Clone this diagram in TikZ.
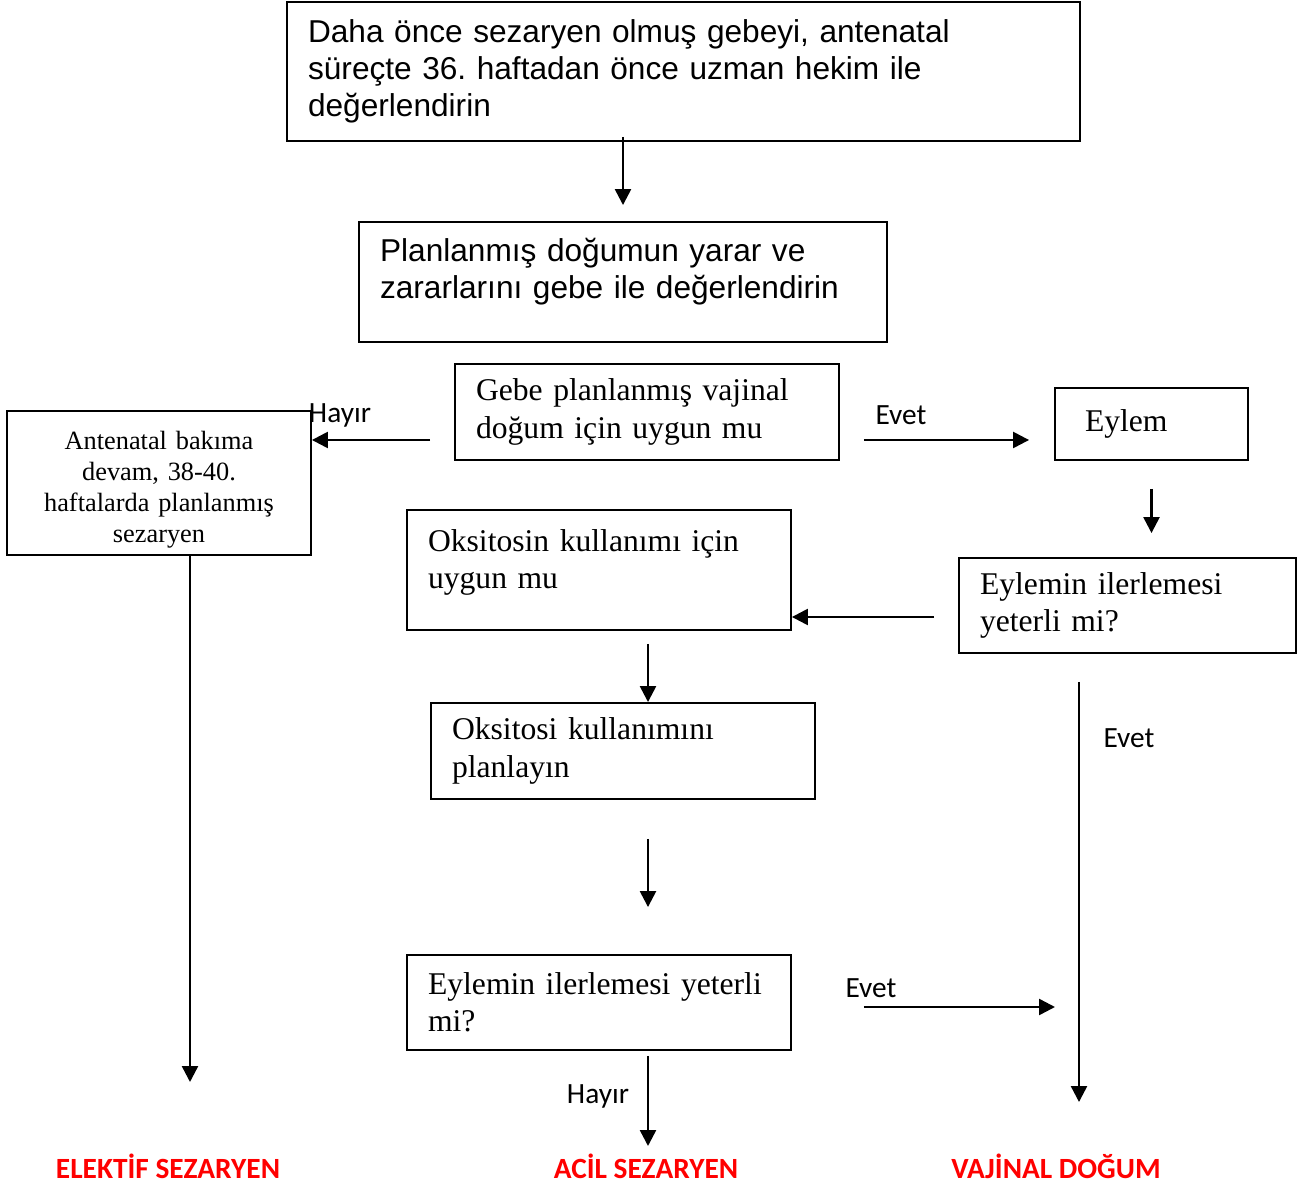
\documentclass[tikz,border=0pt]{standalone}
\usepackage{fontspec}
\setmainfont{Liberation Serif}
\newfontfamily\arialfont{Liberation Sans}
\newfontfamily\calfont{Carlito}
\frenchspacing
\usetikzlibrary{
  positioning,
  arrows.meta}

\tikzset{
  box/.style={draw, line width=1.1pt, inner xsep=0.42cm, inner ysep=0pt, align=left},
  sansbox/.style={box, font=\arialfont\fontsize{18}{21}\selectfont},
  serifbox/.style={box, font=\fontsize{18}{21.2}\selectfont},
  arr/.style={-{Triangle[length=0.32cm,width=0.32cm]}, line width=1.4pt},
  lbl/.style={font=\calfont\fontsize{16.7}{18}\selectfont, inner sep=0pt},
  sonuc/.style={font=\calfont\bfseries\fontsize{16.7}{18}\selectfont, text=red, inner sep=0pt}
}

\begin{document}
\begin{tikzpicture}[x=0.02cm, y=-0.02cm]
\useasboundingbox (0,0) rectangle (1301,1185);
\node[sansbox, text width=15.02cm, minimum height=2.78cm] (b1) at (683.5,71.5)
  {Daha önce sezaryen olmuş gebeyi, antenatal\\süreçte 36. haftadan önce uzman hekim ile\\değerlendirin};
\node[sansbox, text width=9.72cm, minimum height=2.4cm] (b2) at (623,282)
  {Planlanmış doğumun yarar ve\\zararlarını gebe ile değerlendirin\rule[-0.53cm]{0pt}{0.53cm}};
\node[serifbox, text width=6.84cm, minimum height=1.92cm] (b3) at (647,412)
  {Gebe planlanmış vajinal\\doğum için uygun mu};
\node[box, align=center, inner xsep=0.2cm, text width=5.68cm, minimum height=2.88cm,
  font=\fontsize{15}{17.6}\selectfont] (left) at (159,483)
  {\rule{0pt}{0.64cm}Antenatal bakıma\\devam, 38-40.\\haftalarda planlanmış\\sezaryen};
\node[serifbox, inner xsep=0.6cm, text width=2.66cm, minimum height=1.44cm] (eylem) at (1151.5,424) {Eylem};
\node[serifbox, text width=6.84cm, minimum height=2.4cm] (oks) at (599,570)
  {Oksitosin kullanımı için\\uygun mu\rule[-0.45cm]{0pt}{0.45cm}};
\node[serifbox, text width=5.9cm, minimum height=1.9cm] (eyl1) at (1127.5,605.5)
  {Eylemin ilerlemesi\\yeterli mi?};
\node[serifbox, text width=6.84cm, minimum height=1.92cm] (oks2) at (623,751)
  {Oksitosi kullanımını\\planlayın};
\node[serifbox, text width=6.84cm, minimum height=1.9cm] (eyl2) at (599,1002.5)
  {Eylemin ilerlemesi yeterli\\mi?};

\node[sonuc] (elektif) at (168,1166) {ELEKTİF SEZARYEN};
\node[sonuc] (acil) at (646,1166) {ACİL SEZARYEN};
\node[sonuc] (vajinal) at (1056,1166) {VAJİNAL DOĞUM};

\coordinate (ek) at (190,1082);
\coordinate (vd) at (1079,1102);
\coordinate (ac) at (648,1146);
\coordinate (ev) at (1055,1007);

\draw[arr, shorten <=-0.1cm, shorten >=0.32cm] (b1.south -| b2.north) -- (b2.north);
\draw[arr, shorten <=0.48cm] ([yshift=-0.56cm]b3.west) -- ([yshift=-0.56cm]b3.west -| left.east);
\draw[arr, shorten <=0.48cm, shorten >=0.5cm] ([yshift=-0.56cm]b3.east) -- ([yshift=-0.56cm]b3.east -| eylem.west);
\draw[arr, shorten <=0.56cm, shorten >=0.48cm] (eylem.south) -- (eylem.south |- eyl1.north);
\draw[arr, shorten <=0.48cm] ([yshift=-0.23cm]eyl1.west) -- ([yshift=-0.23cm]eyl1.west -| oks.east);
\draw[arr, shorten <=0.26cm] (oks.south -| ac) -- (oks2.north -| ac);
\draw[arr, shorten <=0.78cm, shorten >=0.94cm] (oks2.south -| ac) -- (eyl2.north -| ac);
\draw[arr, shorten <=1.44cm] (eyl2.east |- ev) -- (ev);
\draw[arr, shorten <=0.56cm] (eyl1.south -| vd) -- (vd);
\draw[arr] (left.south -| ek) -- (ek);
\draw[arr, shorten <=0.1cm] (eyl2.south -| ac) -- (ac);

\node[lbl] (hayir1) at (340,415) {Hayır};
\node[lbl] (evet1) at (901,415) {Evet};
\node[lbl] (evet2) at (871,988) {Evet};
\node[lbl] (evet3) at (1129,738) {Evet};
\node[lbl] (hayir2) at (598,1096) {Hayır};
\end{tikzpicture}
\end{document}
